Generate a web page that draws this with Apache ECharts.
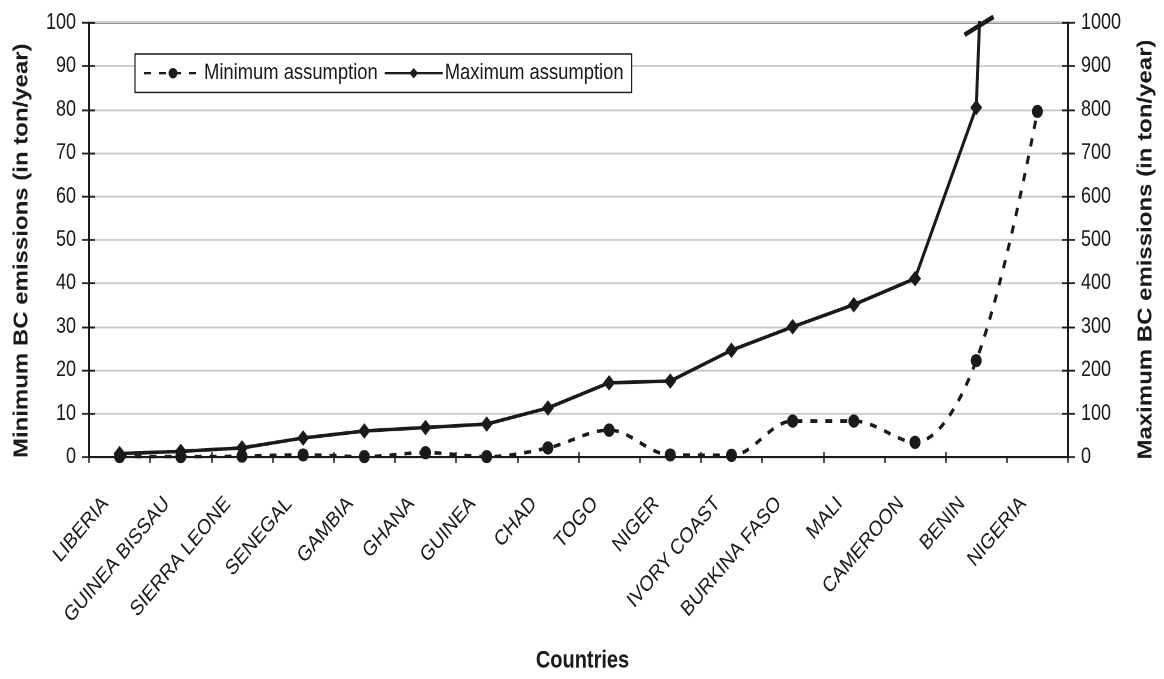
<!DOCTYPE html>
<html>
<head>
<meta charset="utf-8">
<script src="https://cdn.jsdelivr.net/npm/echarts@6/dist/echarts.min.js"></script>
<style>
  html, body { margin: 0; padding: 0; background: #fff; }
  #frame { width: 1164px; height: 679px; overflow: hidden; }
  /* the chart is laid out on a shorter canvas and stretched to the page height */
  #chart { width: 1164px; height: 566px; transform: scaleY(1.1996); transform-origin: 0 0; }
</style>
</head>
<body>
<div id="frame"><div id="chart"></div></div>
<script>
// Black carbon emissions per country, two assumptions (t/year)
const countries = ['LIBERIA', 'GUINEA BISSAU', 'SIERRA LEONE', 'SENEGAL', 'GAMBIA', 'GHANA',
  'GUINEA', 'CHAD', 'TOGO', 'NIGER', 'IVORY COAST', 'BURKINA FASO', 'MALI', 'CAMEROON',
  'BENIN', 'NIGERIA'];
// left axis, 0–100
const minimumAssumption = [0.1, 0.1, 0.2, 0.5, 0.1, 1.0, 0.1, 2.1, 6.2, 0.5, 0.4, 8.3, 8.3, 3.4, 22.2, 79.6];
// right axis, 0–1000 (NIGERIA runs off the scale)
const maximumAssumption = [8, 13, 21, 44, 60, 68, 76, 113, 171, 175, 246, 300, 351, 411, 805, 4400];
const leftTicks = { min: 0, max: 100, interval: 10 };
const rightTicks = { min: 0, max: 1000, interval: 100 };

const FONT = 'Liberation Sans, Arial, sans-serif';
const INK = '#1a1a1a';

const chart = echarts.init(document.getElementById('chart'), null, { renderer: 'canvas', devicePixelRatio: 2 });

const axisTitle = { fontFamily: FONT, fontSize: 20, fontWeight: 'bold', color: INK };
const tickText = { fontFamily: FONT, fontSize: 18, color: INK };

// plain axes that only add the inward half of each tick
function innerY(pos, range) {
  return {
    type: 'value', position: pos, min: range.min, max: range.max, interval: range.interval,
    axisLine: { show: false }, axisLabel: { show: false }, splitLine: { show: false },
    axisTick: { show: true, inside: true, length: 6, lineStyle: { color: INK, width: 1.5 } }
  };
}

chart.setOption({
  animation: false,
  backgroundColor: '#fff',
  grid: {
    left: 89, right: 92, top: 19, bottom: 178,
    show: true, borderColor: INK, borderWidth: 2, backgroundColor: 'transparent'
  },
  legend: {
    left: 135, top: 45,
    padding: [7, 8, 7, 8],
    borderColor: INK, borderWidth: 1.2, borderRadius: 0,
    backgroundColor: '#fff',
    itemWidth: 58, itemHeight: 11, itemGap: 6,
    textStyle: { fontFamily: FONT, fontSize: 18.4, color: INK, padding: [0, 0, 0, -3] },
    data: ['Minimum assumption', 'Maximum assumption']
  },
  xAxis: [
    {
      type: 'category', data: countries, position: 'bottom',
      name: 'Countries', nameLocation: 'middle', nameGap: 160,
      nameTextStyle: { ...axisTitle, padding: [0, 0, 0, 8] },
      axisLine: { lineStyle: { color: INK, width: 2 } },
      axisTick: { show: true, length: 5, lineStyle: { color: INK, width: 1.5 } },
      axisLabel: { rotate: 45, margin: 22, padding: [0, 20, 0, 0], ...tickText },
      splitLine: { show: false }
    },
    {
      type: 'category', data: countries, position: 'bottom',
      axisLine: { show: false }, axisLabel: { show: false }, splitLine: { show: false },
      axisTick: { show: true, inside: true, length: 4, lineStyle: { color: INK, width: 1.5 } }
    }
  ],
  yAxis: [
    {
      type: 'value', position: 'left', ...leftTicks,
      name: 'Minimum BC emissions (in ton/year)', nameLocation: 'middle', nameGap: 57,
      nameTextStyle: { ...axisTitle, padding: [0, 18, 0, 0] },
      axisLine: { show: true, lineStyle: { color: INK, width: 2 } },
      axisTick: { show: true, length: 7, lineStyle: { color: INK, width: 1.5 } },
      axisLabel: { margin: 13, ...tickText },
      splitLine: { show: true, lineStyle: { color: '#c8c8c8', width: 1.5 } }
    },
    {
      type: 'value', position: 'right', ...rightTicks,
      name: 'Maximum BC emissions (in ton/year)', nameLocation: 'middle', nameGap: 68,
      nameTextStyle: { ...axisTitle, padding: [0, 16, 0, 0] }, nameRotate: 90,
      axisLine: { show: true, lineStyle: { color: INK, width: 2 } },
      axisTick: { show: true, length: 7, lineStyle: { color: INK, width: 1.5 } },
      axisLabel: { margin: 13, ...tickText, formatter: v => String(v) },
      splitLine: { show: false }
    },
    innerY('left', leftTicks),
    innerY('right', rightTicks)
  ],
  series: [
    {
      name: 'Minimum assumption', type: 'line', xAxisIndex: 0, yAxisIndex: 0,
      data: minimumAssumption, smooth: 0.35,
      symbol: 'circle', symbolSize: 11,
      itemStyle: { color: INK },
      lineStyle: { color: INK, width: 3, type: [7, 8] },
      z: 3
    },
    {
      name: 'Maximum assumption', type: 'line', xAxisIndex: 0, yAxisIndex: 1,
      data: maximumAssumption, smooth: false, clip: true,
      symbol: 'diamond', symbolSize: [12, 13],
      itemStyle: { color: INK },
      lineStyle: { color: INK, width: 3 },
      z: 4
    }
  ]
});

// axis-break stroke where the maximum line leaves the top of the scale
function drawBreak() {
  const i = maximumAssumption.findIndex(v => v > rightTicks.max);
  if (i < 1) return;
  const a = chart.convertToPixel({ xAxisIndex: 0, yAxisIndex: 1 }, [i - 1, maximumAssumption[i - 1]]);
  const b = chart.convertToPixel({ xAxisIndex: 0, yAxisIndex: 1 }, [i, maximumAssumption[i]]);
  const topY = chart.convertToPixel({ yAxisIndex: 1 }, rightTicks.max);
  const t = (a[1] - topY) / (a[1] - b[1]);
  const cx = a[0] + t * (b[0] - a[0]);
  chart.setOption({
    graphic: [{
      type: 'line', z: 10,
      shape: { x1: cx - 15, y1: topY + 10, x2: cx + 14, y2: topY - 5 },
      style: { stroke: INK, lineWidth: 4 }
    }]
  });
}
drawBreak();
</script>
</body>
</html>
